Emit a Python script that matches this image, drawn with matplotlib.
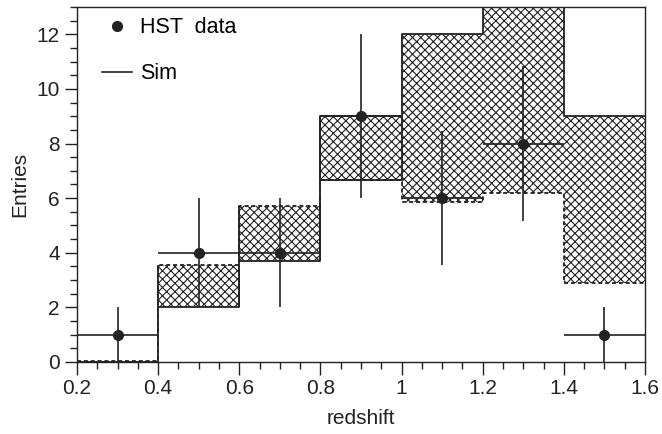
"""
plot.py

Redshift distribution of HST data compared with the simulation band.
"""
import numpy as np
import matplotlib.pyplot as plt
from matplotlib.ticker import MultipleLocator

# bin edges and data
bin_edges = [0.2, 0.4, 0.6, 0.8, 1.0, 1.2, 1.4, 1.6]
data_x = [0.3, 0.5, 0.7, 0.9, 1.1, 1.3, 1.5]
data_y = [1, 4, 4, 9, 6, 8, 1]
data_yerr = [1, 2, 2, 3, 2.45, 2.83, 1]
data_xerr = [0.1, 0.1, 0.1, 0.1, 0.1, 0.1, 0.1]

# simulation band: solid edge and dashed edge
sim_solid = [0.0, 2.0, 3.7, 9.0, 12.0, 14.0, 9.0]
sim_dashed = [0.05, 3.55, 5.7, 6.65, 5.85, 6.2, 2.9]

INK = "#222222"
plt.rcParams["font.family"] = ["Liberation Sans", "DejaVu Sans"]
plt.rcParams["hatch.linewidth"] = 0.8


def step_xy(edges, values):
    """
    Turn histogram contents into x, y arrays for a closed step outline.
    """
    xs = np.repeat(edges, 2)[1:-1]
    ys = np.repeat(values, 2)
    return xs, ys


fig = plt.figure(figsize=(6.62, 4.34), dpi=100)
ax = fig.add_axes([0.1163, 0.1659, 0.858, 0.818])

edges = np.array(bin_edges)
lefts = edges[:-1]
widths = np.diff(edges)
lo = np.minimum(sim_solid, sim_dashed)
hi = np.maximum(sim_solid, sim_dashed)

# hatched band between the two edges
ax.bar(lefts, hi - lo, width=widths, bottom=lo, align="edge",
       facecolor="white", edgecolor=INK, hatch="xxxx", linewidth=0, zorder=1)

# solid box sides where the band is drawn as a box
for i in range(1, 4):
    ax.vlines([edges[i], edges[i + 1]], lo[i], hi[i], color=INK, lw=1.3, zorder=2)
ax.hlines(lo[3], edges[3], edges[4], color=INK, lw=1.3, zorder=2)

# the two edges of the band
xs, ys = step_xy(edges, sim_dashed)
ax.plot(xs, ys, color=INK, lw=1.3, linestyle=(0, (2.2, 1.6)), zorder=3)
xs, ys = step_xy(edges, sim_solid)
ax.plot(xs, ys, color=INK, lw=1.3, zorder=4)

# data points
ax.errorbar(data_x, data_y, xerr=data_xerr, yerr=data_yerr, fmt="o",
            color=INK, ms=7, elinewidth=1.2, capsize=0, zorder=5)

# legend
h_data = plt.Line2D([], [], color=INK, marker="o", ms=7, linestyle="none")
h_sim = plt.Line2D([], [], color=INK, lw=1.2)
ax.legend([h_data, h_sim], ["HST  data", "Sim"], loc="upper left",
          frameon=False, fontsize=15.5, handlelength=1.4, labelspacing=1.15,
          handletextpad=0.35, bbox_to_anchor=(0.01, 1.025))

ax.set_xlim(0.2, 1.6)
ax.set_ylim(0, 13)
ax.xaxis.set_major_locator(MultipleLocator(0.2))
ax.xaxis.set_minor_locator(MultipleLocator(0.05))
ax.yaxis.set_major_locator(MultipleLocator(2))
ax.yaxis.set_minor_locator(MultipleLocator(0.5))
ax.tick_params(which="both", direction="out", color=INK, labelcolor=INK,
               labelsize=15, top=False, right=False)
ax.tick_params(which="major", length=9, width=1.0)
ax.tick_params(which="minor", length=5, width=1.0)
ax.xaxis.set_major_formatter(plt.FuncFormatter(lambda v, p: "%g" % round(v, 2)))
for spine in ax.spines.values():
    spine.set_color(INK)
    spine.set_linewidth(1.0)

ax.set_xlabel("redshift", fontsize=15, color=INK, labelpad=8)
ax.set_ylabel("Entries", fontsize=15, color=INK, labelpad=5)

fig.savefig("out.png", dpi=100)
